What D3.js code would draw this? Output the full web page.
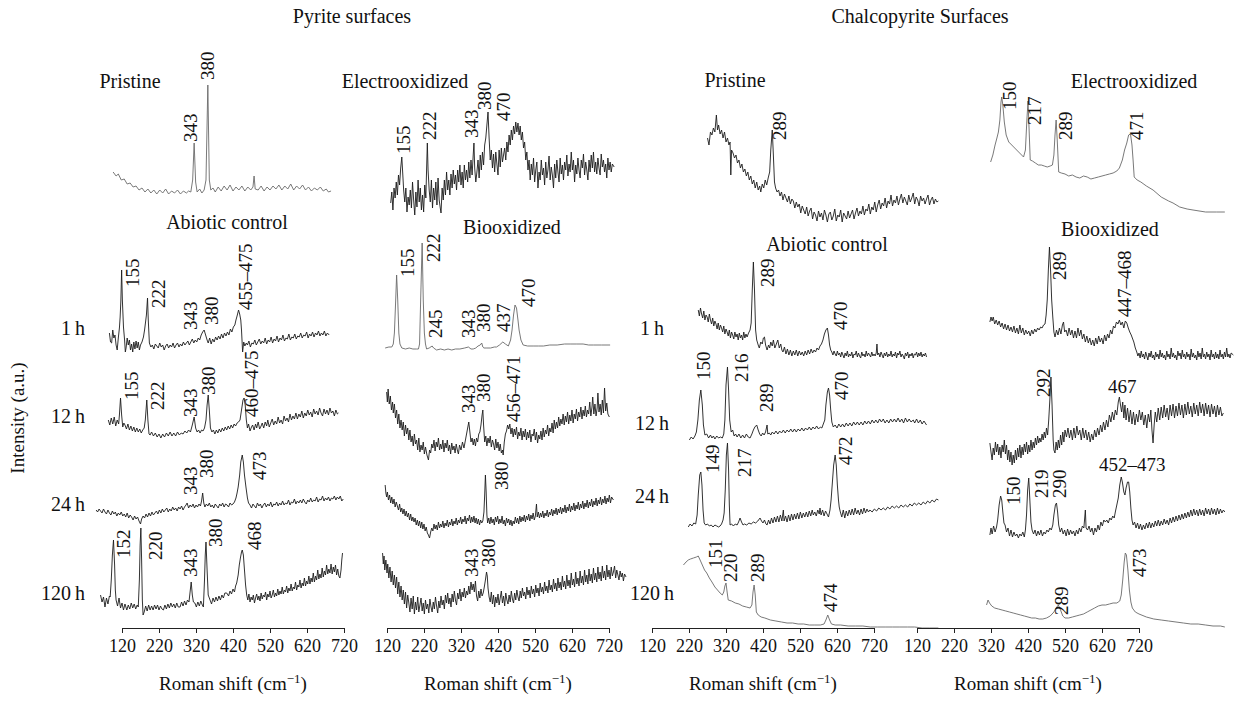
<!DOCTYPE html>
<html>
<head>
<meta charset="utf-8">
<script src="https://cdn.jsdelivr.net/npm/d3@7"></script>
<style>
  body { margin: 0; background: #fff; }
  text { font-family: "Liberation Serif", "DejaVu Serif", serif; fill: #111; }
</style>
</head>
<body>
<svg id="chart" width="1256" height="715"></svg>
<script>
// ---- data: Raman shift (as drawn on each panel's axis) vs stacked intensity (a.u.) ----
var xTicks = [120, 220, 320, 420, 520, 620, 720];
var groupTitles = ["Pyrite surfaces", "Chalcopyrite Surfaces"];
var panelTitles = [["Pristine", "Abiotic control"], ["Electrooxidized", "Biooxidized"],
                   ["Pristine", "Abiotic control"], ["Electrooxidized", "Biooxidized"]];
var timeLabels = ["1\u2009h", "12\u2009h", "24\u2009h", "120\u2009h"];

// pyrite, pristine
var pyPristine = [[96,428],[104,424],[110,426],[118,420],[126,421],[134,416],[142,417],[150,413],[158,414],[166,410],[174,412],[182,408],[190,411],[198,407],[206,410],[214,406],[222,410],[230,407],[238,411],[246,406],[254,409],[262,407],[270,410],[278,406],[286,409],[294,407],[300,409],[306,408],[311,420],[315,457],[319,418],[323,408],[330,411],[336,407],[342,410],[347,420],[352,515],[356,420],[360,410],[366,412],[372,408],[380,413],[388,409],[396,414],[404,410],[412,415],[420,409],[428,413],[436,410],[444,414],[452,409],[460,413],[468,410],[474,413],[477,424],[480,411],[488,410],[496,414],[504,409],[512,413],[520,410],[528,414],[536,411],[544,415],[552,410],[560,414],[568,411],[576,416],[584,410],[592,414],[600,411],[608,415],[616,410],[624,413],[632,409],[640,412],[648,410],[656,413],[664,409],[672,411],[678,408],[685,409]];
var pyPristineLbl = [["343",304,458],["380",352,520]];

// pyrite, electrooxidized
var pyElectro = [[130,397],[133,408],[136,390],[139,412],[142,402],[145,418],[148,405],[151,425],[154,415],[157,432],[160,443],[162,430],[165,410],[168,398],[171,412],[174,388],[177,403],[180,395],[183,410],[186,392],[189,418],[192,400],[195,385],[198,408],[201,393],[204,420],[207,398],[210,412],[213,390],[216,405],[219,388],[222,415],[225,402],[227,430],[229,457],[231,430],[234,410],[237,398],[240,420],[243,392],[246,412],[249,400],[252,418],[255,395],[258,422],[261,400],[264,392],[266,387],[269,412],[272,400],[275,420],[278,405],[281,428],[284,410],[287,420],[290,405],[293,426],[296,412],[299,430],[302,416],[305,425],[308,410],[311,430],[314,418],[317,435],[320,415],[323,428],[326,412],[329,435],[332,420],[335,430],[338,418],[341,438],[344,422],[347,440],[350,425],[353,445],[355,457],[357,432],[360,418],[363,428],[366,440],[369,422],[372,445],[375,430],[378,448],[381,435],[384,455],[387,462],[390,475],[393,488],[396,462],[399,440],[402,450],[405,432],[408,446],[411,428],[414,448],[417,436],[420,425],[423,450],[426,433],[429,452],[432,438],[435,445],[438,452],[441,440],[444,458],[447,448],[450,465],[453,455],[456,470],[459,460],[462,474],[465,466],[468,478],[471,468],[474,477],[477,465],[480,474],[483,460],[486,468],[489,452],[492,458],[495,440],[498,448],[501,430],[504,440],[507,420],[510,436],[513,425],[516,442],[519,418],[522,430],[525,438],[528,412],[531,428],[534,420],[537,440],[540,425],[543,432],[546,415],[549,438],[552,422],[555,430],[558,444],[561,420],[564,433],[567,425],[570,412],[573,436],[576,422],[579,440],[582,428],[585,418],[588,442],[591,426],[594,435],[597,420],[600,438],[603,430],[606,445],[609,424],[612,436],[615,428],[618,448],[621,430],[624,440],[627,418],[630,435],[633,426],[636,442],[639,430],[642,422],[645,440],[648,432],[651,446],[654,425],[657,438],[660,430],[663,420],[666,440],[669,428],[672,445],[675,432],[678,448],[681,428],[684,438],[687,426],[690,442],[693,432],[696,425],[699,446],[702,433],[705,440],[708,428],[711,436],[714,422],[717,442],[720,430],[723,438],[726,428],[729,436],[734,433]];
var pyElectroLbl = [["155",163,446],["222",235,460],["343",347,462],["380",382,490],["470",435,479]];

// pyrite, abiotic control
var pyAbio1h = [[86,267],[89,258],[92,257],[95,270],[98,262],[101,265],[104,255],[107,250],[110,262],[113,272],[115,283],[117,300],[119,330],[121,300],[124,273],[127,260],[129,248],[131,252],[134,262],[137,255],[140,260],[143,250],[146,256],[149,248],[152,258],[155,251],[158,259],[161,252],[164,258],[167,250],[170,255],[174,258],[178,263],[181,270],[184,279],[186,285],[189,302],[191,280],[194,257],[198,253],[202,255],[206,251],[210,256],[214,254],[218,252],[222,257],[226,253],[230,255],[234,250],[238,254],[242,256],[246,252],[250,255],[254,253],[258,257],[262,252],[266,255],[270,257],[274,253],[278,256],[282,254],[286,258],[290,255],[294,257],[298,259],[302,255],[306,258],[310,261],[314,257],[318,260],[322,258],[326,262],[330,260],[334,265],[338,268],[342,270],[346,265],[350,260],[353,257],[357,262],[361,256],[365,261],[369,258],[373,263],[377,260],[381,264],[385,261],[389,266],[393,262],[397,267],[401,264],[405,268],[409,265],[413,271],[417,268],[421,273],[425,275],[428,280],[431,284],[435,290],[438,286],[441,280],[443,270],[445,255],[446,248],[449,258],[452,254],[456,257],[459,255],[463,259],[467,253],[471,257],[475,256],[479,260],[483,255],[487,258],[491,261],[495,256],[499,259],[503,257],[507,262],[511,256],[515,260],[519,258],[523,263],[527,257],[531,261],[535,259],[539,264],[543,258],[547,262],[551,260],[555,265],[559,259],[563,262],[567,261],[571,266],[575,260],[579,263],[583,262],[587,266],[591,261],[595,264],[599,263],[603,267],[607,262],[611,265],[615,264],[619,268],[623,262],[627,266],[631,264],[635,268],[639,263],[643,267],[647,265],[651,269],[655,264],[659,267],[663,265],[667,269],[671,264],[675,267],[680,265]];
var pyAbio1hLbl = [["155",148,313],["222",219,292],["343",304,270],["380",361,275],["455\u2013475",454,290]];

var pyAbio12h = [[83,180],[87,175],[91,182],[95,176],[99,183],[103,174],[107,180],[111,176],[113,185],[116,202],[119,185],[122,173],[125,177],[128,175],[132,171],[136,176],[140,170],[144,174],[148,169],[152,173],[156,168],[160,172],[164,168],[168,171],[172,167],[176,170],[180,172],[183,180],[187,200],[190,180],[193,166],[196,165],[200,168],[205,164],[210,167],[215,163],[220,166],[225,162],[230,166],[235,163],[240,167],[245,164],[250,168],[255,164],[260,167],[265,164],[270,168],[275,165],[280,167],[285,166],[290,169],[295,167],[300,170],[305,168],[310,175],[315,183],[319,172],[323,168],[327,170],[331,167],[335,170],[339,169],[343,172],[347,180],[350,195],[353,205],[356,190],[359,172],[363,168],[367,170],[371,166],[375,170],[379,167],[383,171],[387,168],[391,172],[395,169],[399,173],[403,170],[407,174],[411,171],[415,175],[419,172],[423,176],[427,174],[431,177],[435,178],[439,180],[443,190],[447,200],[450,202],[453,195],[456,180],[459,172],[462,176],[466,169],[470,173],[473,175],[477,170],[481,176],[484,172],[488,178],[492,171],[496,174],[499,177],[503,172],[507,178],[511,174],[514,180],[518,173],[522,177],[526,181],[530,175],[534,179],[538,176],[542,183],[546,177],[550,180],[554,176],[558,184],[562,179],[566,182],[570,178],[574,186],[578,180],[582,184],[586,181],[590,187],[594,181],[598,186],[602,183],[606,189],[610,182],[614,187],[618,184],[622,190],[626,185],[630,188],[634,183],[638,191],[642,186],[646,189],[650,185],[654,192],[658,187],[662,184],[666,191],[670,186],[674,190],[678,185],[682,192],[686,187],[690,189],[694,184],[698,190],[702,186],[705,187]];
var pyAbio12hLbl = [["155",145,200],["222",216,190],["343",304,183],["380",353,205],["460\u2013475",470,183]];

var pyAbio24h = [[50,90],[54,88],[58,91],[62,89],[66,87],[70,91],[74,88],[78,86],[82,90],[86,87],[90,85],[94,89],[98,86],[102,88],[106,84],[110,87],[114,85],[118,88],[122,84],[126,86],[130,83],[134,87],[138,82],[142,85],[146,83],[150,80],[154,84],[158,81],[162,83],[166,79],[170,76],[173,81],[177,84],[181,82],[185,86],[189,83],[193,87],[197,84],[201,88],[205,85],[209,87],[213,89],[217,86],[221,90],[225,87],[229,91],[233,88],[237,90],[241,92],[245,88],[249,91],[253,89],[257,93],[261,90],[265,92],[269,89],[273,93],[277,91],[281,94],[285,90],[289,93],[293,95],[296,97],[300,92],[304,95],[308,93],[312,96],[316,92],[320,95],[324,93],[328,96],[332,94],[335,99],[338,107],[341,97],[344,93],[348,96],[352,94],[356,97],[360,93],[364,95],[368,92],[372,96],[376,94],[380,92],[384,96],[388,94],[392,97],[396,93],[400,96],[404,95],[408,93],[412,97],[416,95],[420,96],[424,98],[428,102],[431,107],[434,113],[438,125],[441,138],[445,145],[448,138],[451,125],[455,113],[459,102],[462,97],[466,95],[470,92],[474,96],[478,94],[482,92],[486,97],[490,94],[494,96],[498,92],[502,95],[506,97],[510,93],[514,96],[518,94],[522,98],[526,93],[530,96],[534,95],[538,98],[542,94],[546,97],[550,95],[554,99],[558,95],[562,97],[566,96],[570,100],[574,95],[578,98],[582,97],[586,101],[590,96],[594,99],[598,97],[602,100],[606,97],[610,101],[614,98],[618,96],[622,100],[626,98],[630,102],[634,98],[638,100],[642,99],[646,103],[650,98],[654,101],[658,100],[662,104],[666,99],[670,102],[674,100],[678,103],[682,99],[686,102],[690,101],[694,104],[698,100],[702,103],[706,101],[710,104],[714,99],[718,101]];
var pyAbio24hLbl = [["343",304,105],["380",348,122],["473",490,120]];

var pyAbio120h = [[62,5],[66,-2],[70,3],[74,-7],[78,2],[82,-4],[86,4],[88,3],[91,20],[94,45],[97,60],[100,35],[102,10],[104,0],[108,-6],[112,2],[116,-8],[120,-3],[124,-10],[128,-4],[133,-10],[137,-5],[141,-9],[145,-3],[149,-8],[153,-4],[157,-9],[161,-5],[164,-7],[167,20],[169,55],[171,72],[173,40],[175,0],[177,-15],[180,-12],[184,-6],[188,-11],[192,-5],[196,-10],[200,-6],[204,-10],[208,-5],[212,-9],[216,-5],[220,-10],[224,-6],[228,-9],[232,-10],[236,-5],[240,-9],[244,-4],[248,-8],[252,-3],[256,-7],[260,-4],[264,-8],[268,-3],[272,-7],[277,-7],[281,-2],[285,-6],[289,-1],[293,-5],[297,0],[301,-2],[304,8],[307,18],[310,5],[313,-2],[317,-3],[321,-7],[325,-2],[329,-6],[333,-1],[337,-5],[340,-7],[343,20],[345,45],[347,58],[350,30],[353,5],[358,0],[362,-4],[366,2],[370,-2],[374,3],[378,-1],[382,4],[386,0],[390,5],[394,2],[398,7],[403,7],[408,4],[412,9],[416,6],[420,11],[424,8],[427,14],[430,17],[434,25],[437,35],[440,42],[443,48],[445,50],[448,45],[451,30],[454,15],[457,5],[460,0],[463,6],[466,-2],[469,3],[472,0],[475,5],[478,-3],[481,2],[484,6],[487,0],[490,4],[493,-1],[496,7],[499,1],[502,5],[505,3],[508,8],[511,0],[514,6],[517,3],[520,9],[523,2],[526,5],[529,10],[532,3],[535,7],[538,4],[541,11],[544,5],[547,9],[550,6],[553,13],[556,6],[559,10],[562,8],[565,14],[568,7],[571,12],[574,9],[577,16],[580,9],[583,13],[586,11],[589,18],[592,10],[595,15],[598,13],[601,20],[604,12],[607,17],[610,14],[613,22],[616,14],[619,19],[622,16],[625,24],[628,16],[631,22],[634,18],[637,27],[640,18],[643,24],[646,20],[649,30],[652,21],[655,26],[658,22],[661,32],[664,23],[667,29],[670,25],[673,35],[676,26],[679,31],[682,27],[685,36],[688,26],[691,33],[694,28],[697,35],[700,25],[703,31],[706,24],[709,22],[712,30],[714,40],[716,47]];
var pyAbio120hLbl = [["152",124,42],["220",211,40],["343",304,23],["380",373,53],["468",478,50]];

// pyrite, biooxidized
var pyBio1h = [[115,252],[125,253],[133,253],[137,256],[140,267],[143,295],[146,325],[149,300],[152,267],[155,256],[160,252],[170,251],[180,252],[190,251],[200,251],[205,251],[208,256],[211,300],[215,357],[218,300],[221,267],[224,256],[227,251],[234,252],[242,254],[246,252],[254,250],[265,251],[275,250],[285,251],[295,250],[305,251],[317,251],[330,252],[340,253],[347,251],[353,251],[360,252],[366,254],[372,255],[376,257],[379,253],[382,252],[390,252],[400,252],[410,253],[416,253],[424,255],[433,258],[440,256],[448,254],[454,260],[458,270],[462,285],[466,295],[470,292],[474,280],[477,270],[482,260],[488,255],[500,254],[515,254],[530,254],[543,254],[560,255],[580,255],[600,256],[615,256],[633,256],[650,256],[665,255],[678,255],[700,255],[723,255]];
var pyBio1hLbl = [["155",174,323],["222",246,338],["245",250,262],["343",339,262],["380",380,268],["437",434,268],["470",502,293]];

var pyBio12h = [[119,208],[121,198],[123,211],[126,196],[129,204],[132,190],[135,198],[137,187],[140,196],[143,182],[146,190],[149,176],[152,186],[155,172],[158,180],[161,170],[164,178],[167,164],[170,175],[173,166],[176,172],[179,160],[182,170],[185,158],[188,164],[191,154],[194,166],[197,156],[200,160],[203,150],[206,162],[209,148],[212,155],[215,150],[218,158],[221,146],[224,153],[228,145],[232,140],[235,150],[238,147],[241,156],[244,152],[247,160],[250,149],[253,158],[256,153],[259,162],[262,150],[265,156],[268,151],[271,160],[274,148],[277,157],[280,152],[283,160],[286,149],[289,155],[292,146],[295,157],[298,150],[301,154],[304,147],[307,156],[310,150],[313,146],[316,155],[320,150],[324,158],[328,152],[332,160],[335,166],[338,172],[341,178],[344,168],[347,158],[350,162],[353,155],[356,161],[359,154],[362,162],[365,158],[368,166],[371,168],[374,175],[377,185],[379,190],[381,175],[384,158],[387,164],[390,154],[393,162],[396,157],[399,164],[402,153],[405,160],[408,156],[411,150],[414,161],[417,152],[420,158],[423,149],[426,156],[429,147],[432,150],[434,145],[437,158],[440,166],[443,169],[446,175],[449,171],[452,176],[455,166],[458,172],[461,163],[464,171],[467,165],[470,173],[473,161],[476,168],[479,164],[482,172],[485,160],[488,169],[491,163],[494,171],[497,160],[500,168],[503,162],[506,170],[509,158],[512,166],[515,164],[518,171],[521,160],[524,168],[527,157],[530,165],[533,161],[536,169],[539,160],[542,172],[545,163],[548,170],[551,166],[554,175],[557,164],[560,172],[563,168],[566,177],[569,167],[572,180],[575,171],[578,178],[581,172],[584,183],[587,174],[590,181],[593,176],[596,186],[599,175],[602,184],[605,178],[608,188],[611,176],[614,185],[617,179],[620,190],[623,177],[626,186],[629,181],[632,191],[635,179],[638,188],[641,183],[644,193],[647,181],[650,190],[653,184],[656,194],[659,183],[662,190],[665,186],[668,198],[671,184],[674,193],[676,203],[679,186],[682,196],[685,184],[688,192],[690,207],[693,188],[696,196],[699,185],[702,200],[705,187],[708,212],[711,189],[714,197],[717,186],[721,183]];
var pyBio12hLbl = [["343",340,187],["380",380,198],["456\u2013471",462,178]];

var pyBio24h = [[115,115],[117,107],[119,103],[121,108],[124,100],[127,105],[130,97],[133,103],[136,96],[139,101],[142,93],[145,98],[148,94],[151,90],[154,96],[157,88],[160,92],[163,86],[166,91],[169,84],[172,89],[175,83],[178,87],[181,80],[184,86],[187,79],[190,83],[193,78],[196,82],[199,75],[202,80],[205,74],[208,79],[211,72],[214,78],[217,71],[220,76],[223,69],[226,73],[229,67],[232,65],[235,62],[238,68],[241,72],[244,69],[247,76],[250,71],[253,75],[256,70],[259,78],[262,72],[265,76],[268,73],[271,79],[274,72],[277,77],[280,74],[283,80],[286,73],[289,78],[292,75],[295,81],[298,74],[301,79],[304,76],[307,82],[310,75],[313,80],[316,77],[319,83],[322,76],[325,81],[328,78],[331,84],[334,76],[337,82],[340,79],[343,85],[346,77],[349,83],[352,78],[355,84],[358,77],[361,82],[364,76],[367,81],[370,75],[373,80],[376,77],[379,79],[382,88],[384,105],[386,125],[388,108],[390,85],[392,77],[395,82],[398,76],[401,83],[404,77],[407,81],[410,75],[413,83],[416,78],[419,84],[422,76],[425,81],[428,77],[431,84],[434,76],[437,80],[440,74],[443,82],[446,77],[449,81],[452,75],[455,80],[458,74],[461,79],[464,76],[467,83],[470,77],[473,82],[476,76],[479,84],[482,78],[485,83],[488,79],[491,85],[494,78],[497,84],[500,80],[503,86],[506,79],[509,85],[512,81],[515,87],[518,80],[521,84],[524,96],[526,83],[529,88],[532,82],[535,87],[538,83],[541,89],[544,82],[547,87],[550,84],[553,90],[556,83],[559,88],[562,85],[565,91],[568,84],[571,90],[574,86],[577,92],[580,85],[583,91],[586,87],[589,93],[592,86],[595,92],[598,88],[601,95],[604,87],[607,93],[610,89],[613,96],[616,88],[619,94],[622,90],[625,97],[628,89],[631,95],[634,91],[637,98],[640,90],[643,96],[646,92],[649,99],[652,91],[655,97],[658,93],[661,100],[664,92],[667,98],[670,94],[673,101],[676,93],[679,99],[682,95],[685,102],[688,94],[691,100],[694,96],[697,103],[700,95],[703,101],[706,97],[709,104],[712,96],[715,102],[718,98],[721,105],[724,97],[727,103],[732,100]];
var pyBio24hLbl = [["380",430,110]];

var pyBio120h = [[108,47],[110,36],[112,44],[114,30],[117,40],[120,27],[122,36],[125,22],[128,33],[131,18],[134,29],[137,15],[140,25],[143,12],[146,23],[149,6],[152,18],[155,3],[158,14],[161,0],[164,10],[167,-4],[170,8],[173,-8],[176,5],[179,-3],[182,-12],[185,2],[188,-9],[191,4],[194,-14],[197,-2],[200,-10],[203,3],[206,-12],[209,-5],[212,2],[215,-11],[218,-3],[221,-14],[224,0],[227,-9],[230,-4],[233,-13],[236,1],[239,-7],[242,-12],[245,-2],[248,-9],[251,3],[254,-6],[257,-13],[260,-1],[263,-8],[266,4],[269,-5],[272,0],[275,-9],[278,5],[281,-3],[284,7],[287,-4],[290,2],[293,-7],[296,6],[299,-2],[302,9],[305,0],[308,-5],[311,7],[314,1],[317,11],[320,-1],[323,8],[326,3],[329,12],[332,2],[335,9],[338,5],[341,14],[344,6],[347,18],[350,10],[353,16],[356,8],[359,19],[362,4],[365,-1],[368,9],[371,2],[374,11],[377,4],[380,7],[383,13],[386,20],[389,28],[391,24],[393,12],[396,3],[399,-2],[402,8],[405,-4],[408,5],[411,-7],[414,3],[417,-3],[420,6],[423,-5],[426,2],[429,9],[432,-3],[435,4],[438,-6],[441,7],[444,0],[447,-4],[450,5],[453,-2],[456,9],[459,1],[462,-3],[465,7],[468,0],[471,10],[474,3],[477,-1],[480,9],[483,2],[486,12],[489,4],[492,8],[495,1],[498,13],[501,5],[504,10],[507,2],[510,14],[513,6],[516,11],[519,3],[522,15],[525,7],[528,12],[531,4],[534,17],[537,8],[540,13],[543,6],[546,18],[549,9],[552,14],[555,7],[558,20],[561,10],[564,15],[567,8],[570,21],[573,11],[576,17],[579,9],[582,22],[585,12],[588,18],[591,10],[594,24],[597,13],[600,19],[603,11],[606,25],[609,14],[612,20],[615,12],[618,27],[621,15],[624,21],[627,13],[630,28],[633,16],[636,22],[639,14],[642,29],[645,17],[648,24],[651,15],[654,30],[657,18],[660,25],[663,16],[666,31],[669,19],[672,26],[675,17],[678,32],[681,20],[684,27],[687,18],[690,33],[693,21],[696,28],[699,19],[702,34],[705,22],[708,29],[711,20],[714,35],[717,23],[720,30],[723,21],[726,33],[729,24],[732,28],[735,34],[738,22],[741,30],[744,25],[747,20],[750,29],[753,23],[756,27],[759,19],[762,26],[766,23]];
var pyBio120hLbl = [["343",348,23],["380",394,33]];

// chalcopyrite, pristine
var cpPristine = [[270,462],[274,455],[278,468],[282,465],[286,472],[290,468],[294,485],[297,470],[300,475],[304,466],[308,470],[312,462],[316,468],[320,458],[324,462],[328,455],[331,458],[333,425],[335,450],[339,447],[343,442],[347,445],[351,437],[355,440],[359,432],[363,436],[367,428],[371,431],[375,424],[379,428],[383,420],[387,424],[391,416],[395,420],[399,412],[403,418],[407,410],[411,414],[414,408],[418,416],[422,412],[426,420],[430,415],[434,422],[438,428],[441,450],[445,470],[448,445],[451,418],[454,412],[458,408],[462,410],[466,404],[470,408],[474,400],[478,406],[482,402],[486,398],[490,404],[494,396],[498,401],[502,399],[506,392],[510,398],[514,393],[518,396],[522,387],[526,394],[530,390],[534,386],[538,393],[542,384],[546,389],[550,392],[554,381],[558,388],[562,385],[566,379],[570,389],[574,383],[578,387],[582,380],[586,390],[590,385],[594,378],[598,386],[602,388],[606,380],[610,384],[614,391],[618,379],[622,385],[626,383],[630,390],[634,378],[638,387],[642,384],[646,381],[650,389],[654,382],[658,386],[662,390],[666,381],[670,387],[674,392],[678,384],[682,389],[686,386],[690,394],[694,385],[698,391],[702,389],[706,396],[710,386],[714,393],[718,390],[722,398],[726,388],[730,395],[734,400],[738,391],[742,397],[746,394],[750,402],[754,392],[758,399],[762,396],[766,405],[770,394],[774,400],[778,397],[782,404],[786,395],[790,401],[794,406],[798,397],[802,403],[806,399],[810,395],[814,405],[818,398],[822,402],[826,407],[830,396],[834,403],[838,400],[842,394],[846,404],[850,399],[854,402],[858,396],[862,401],[866,405],[870,395],[874,400],[878,403],[882,396],[886,401],[890,398],[894,399]];
var cpPristineLbl = [["289",465,460]];

// chalcopyrite, electrooxidized
var cpElectro = [[319,438],[325,445],[331,455],[336,462],[340,468],[344,480],[347,498],[349,503],[352,495],[356,478],[361,465],[368,458],[376,455],[384,452],[392,449],[400,446],[408,443],[413,450],[417,480],[420,499],[423,470],[426,440],[432,439],[440,437],[448,435],[456,435],[464,434],[472,433],[480,434],[486,435],[490,445],[493,465],[496,480],[499,460],[503,428],[510,427],[520,426],[530,424],[540,425],[550,423],[560,422],[570,424],[580,423],[590,421],[600,422],[610,423],[620,424],[630,425],[640,426],[650,427],[660,429],[667,432],[675,440],[681,450],[687,457],[692,465],[697,466],[701,455],[704,440],[707,423],[715,420],[725,418],[740,414],[758,410],[780,403],[800,399],[812,397],[830,393],[850,391],[866,390],[900,388],[930,388],[952,388]];
var cpElectroLbl = [["150",370,490],["217",438,475],["289",520,460],["471",713,460]];

// chalcopyrite, abiotic control
var cpAbio1h = [[245,290],[248,284],[251,292],[254,286],[257,282],[260,289],[263,280],[266,285],[269,283],[272,278],[275,286],[278,280],[281,276],[284,282],[287,274],[290,279],[293,276],[296,271],[299,277],[302,270],[305,275],[308,272],[311,268],[314,274],[317,266],[320,271],[323,268],[326,264],[329,270],[332,262],[335,268],[338,265],[341,261],[344,268],[347,263],[350,266],[353,260],[356,267],[359,262],[362,265],[365,260],[368,268],[371,262],[374,266],[377,263],[381,267],[385,270],[388,277],[391,310],[394,338],[397,310],[400,270],[403,260],[407,255],[410,252],[414,258],[418,256],[421,262],[424,263],[427,255],[431,250],[435,255],[438,252],[441,258],[445,254],[448,260],[452,252],[456,256],[460,260],[464,252],[468,256],[471,250],[474,248],[478,253],[482,246],[486,251],[490,245],[494,250],[498,244],[502,249],[506,245],[510,250],[514,244],[518,249],[522,245],[526,248],[530,244],[534,249],[538,245],[542,250],[546,246],[550,251],[554,247],[558,250],[562,248],[566,252],[570,250],[574,254],[578,256],[582,260],[586,266],[590,270],[594,272],[597,265],[600,255],[603,250],[606,248],[609,245],[612,249],[615,246],[618,244],[621,249],[624,245],[627,247],[630,243],[633,248],[636,245],[639,242],[642,247],[645,244],[648,249],[651,243],[654,246],[657,244],[660,248],[663,242],[666,246],[669,245],[672,249],[675,243],[678,247],[681,244],[684,242],[687,248],[690,244],[693,246],[696,243],[699,249],[702,244],[705,247],[708,245],[711,243],[714,248],[717,244],[720,246],[723,244],[726,247],[728,256],[730,245],[733,247],[736,243],[739,248],[742,245],[745,242],[748,247],[751,244],[754,248],[757,243],[760,246],[763,244],[766,249],[769,243],[772,246],[775,244],[778,248],[781,242],[784,247],[787,245],[790,249],[793,243],[796,246],[799,244],[802,241],[805,247],[808,244],[811,248],[814,242],[817,246],[820,244],[823,247],[826,242],[829,246],[832,245],[835,248],[838,243],[841,247],[844,244],[847,248],[850,243],[853,246],[856,244],[859,247],[862,243]];
var cpAbio1hLbl = [["289",431,313],["470",628,270]];

var cpAbio12h = [[221,160],[226,163],[231,161],[236,164],[240,168],[244,180],[248,200],[252,210],[256,195],[259,175],[263,165],[268,166],[273,162],[278,165],[282,162],[286,164],[290,161],[295,164],[300,162],[305,163],[310,162],[314,166],[317,180],[320,215],[324,233],[327,210],[330,180],[334,168],[338,170],[342,164],[346,166],[350,163],[355,166],[360,162],[365,165],[370,162],[375,166],[380,163],[385,162],[390,166],[394,170],[398,173],[403,175],[407,170],[411,166],[415,164],[419,167],[423,165],[427,168],[431,175],[433,166],[437,167],[441,165],[445,168],[450,166],[455,169],[460,166],[465,169],[470,167],[475,170],[480,167],[485,170],[490,168],[495,171],[500,168],[505,171],[510,168],[515,171],[520,169],[525,172],[530,169],[535,172],[540,170],[545,173],[550,170],[555,173],[560,171],[565,174],[570,171],[575,173],[579,172],[583,176],[587,180],[590,195],[594,208],[597,212],[600,205],[603,190],[606,178],[610,173],[615,175],[620,172],[625,176],[630,173],[635,176],[640,173],[645,177],[650,174],[655,177],[660,174],[665,178],[670,175],[675,178],[680,175],[685,178],[690,175],[695,179],[700,176],[705,179],[710,176],[715,180],[720,177],[725,180],[730,177],[735,181],[740,178],[745,181],[750,177],[755,180],[760,177],[765,181],[770,178],[775,181],[780,178],[785,182],[790,178],[795,181],[800,177],[805,182],[810,178],[815,181],[820,178],[826,180],[830,177],[835,181],[840,177],[845,180],[850,176],[855,179],[862,175]];
var cpAbio12hLbl = [["150",259,220],["216",362,218],["289",430,188],["470",632,200]];

var cpAbio24h = [[218,73],[223,76],[228,74],[233,77],[238,76],[242,85],[245,105],[249,125],[252,128],[255,115],[258,90],[261,77],[265,75],[270,76],[275,74],[280,75],[285,73],[290,75],[295,74],[300,73],[304,74],[308,76],[312,80],[315,87],[318,110],[321,145],[324,157],[327,130],[329,95],[331,75],[335,76],[340,74],[345,76],[350,75],[354,78],[358,82],[362,78],[366,75],[370,76],[376,75],[382,77],[388,76],[394,78],[400,77],[406,79],[410,81],[412,82],[416,79],[420,77],[424,80],[428,76],[431,75],[435,80],[439,76],[443,82],[447,77],[451,83],[455,78],[459,84],[463,78],[467,85],[471,79],[475,90],[477,79],[481,84],[485,78],[489,85],[493,79],[497,86],[501,80],[505,86],[509,81],[513,87],[517,81],[521,88],[525,82],[529,87],[533,83],[537,88],[541,83],[545,89],[549,84],[553,90],[556,85],[560,88],[564,84],[568,90],[572,86],[574,92],[577,85],[581,90],[585,84],[589,89],[593,86],[597,83],[601,90],[604,100],[607,115],[611,135],[615,145],[618,135],[621,115],[624,100],[626,93],[629,88],[633,83],[637,90],[641,82],[645,89],[649,84],[653,90],[657,85],[661,91],[665,85],[669,92],[673,86],[677,90],[681,85],[685,91],[689,86],[693,92],[697,87],[701,91],[705,88],[709,90],[715,88],[721,91],[727,89],[733,92],[739,90],[745,92],[751,90],[757,93],[763,91],[769,94],[775,92],[781,94],[787,92],[793,95],[799,93],[805,95],[811,93],[817,96],[823,94],[829,97],[835,95],[841,97],[847,95],[853,98],[859,96],[865,99],[871,97],[877,100],[883,98],[889,101],[894,100]];
var cpAbio24hLbl = [["149",283,127],["217",369,123],["472",643,135]];

var cpAbio120h = [[205,35],[212,38],[218,40],[224,41],[232,42],[240,43],[245,44],[250,40],[256,35],[262,30],[268,27],[275,22],[282,18],[290,13],[297,10],[304,7],[310,5],[314,8],[317,14],[320,17],[323,8],[326,0],[335,-1],[345,-3],[355,-4],[365,-6],[375,-7],[385,-8],[390,-5],[393,8],[396,15],[399,5],[402,-12],[407,-15],[415,-17],[425,-18],[440,-20],[455,-21],[470,-22],[485,-23],[500,-23],[515,-24],[530,-24],[545,-25],[560,-25],[575,-25],[585,-24],[590,-20],[595,-15],[600,-20],[605,-24],[615,-25],[630,-25],[650,-26],[670,-26],[690,-26],[710,-27],[730,-27],[750,-27],[770,-27],[790,-27],[810,-27],[830,-27],[850,-28],[870,-28],[894,-28]];
var cpAbio120hLbl = [["151",290,32],["220",332,18],["289",405,18],["474",603,-12]];

// chalcopyrite, biooxidized
var cpBio1h = [[317,278],[320,283],[323,279],[326,283],[330,276],[334,280],[338,275],[342,279],[346,273],[350,277],[354,271],[358,276],[362,270],[366,275],[370,269],[374,273],[378,268],[382,274],[386,267],[390,272],[394,266],[398,275],[402,267],[406,272],[410,265],[414,270],[418,266],[422,269],[426,264],[430,270],[434,266],[438,271],[442,268],[446,272],[450,270],[454,273],[458,272],[462,275],[466,276],[469,285],[472,300],[475,330],[478,353],[481,330],[484,300],[487,283],[490,268],[493,263],[497,270],[501,265],[505,272],[509,266],[513,275],[516,278],[519,268],[523,270],[527,264],[531,272],[535,265],[539,270],[543,262],[547,269],[551,262],[555,272],[559,264],[563,270],[567,261],[571,266],[575,258],[579,264],[583,257],[587,262],[591,255],[595,260],[599,254],[603,262],[607,256],[611,264],[615,258],[619,262],[623,256],[627,265],[631,259],[635,266],[639,262],[643,270],[647,266],[651,274],[655,272],[659,278],[663,276],[667,280],[671,275],[675,278],[679,272],[683,279],[687,277],[691,272],[695,268],[699,265],[702,262],[706,258],[710,252],[714,248],[717,244],[720,247],[723,242],[726,249],[729,243],[732,246],[735,241],[738,248],[741,244],[744,240],[747,247],[750,243],[753,249],[756,242],[759,245],[762,240],[765,248],[768,243],[771,246],[774,241],[777,250],[780,243],[783,247],[786,242],[789,245],[792,240],[795,249],[798,243],[801,246],[804,241],[807,252],[810,243],[813,247],[816,242],[819,245],[822,240],[825,249],[828,244],[831,247],[834,241],[837,250],[840,243],[843,246],[846,241],[849,248],[852,243],[855,246],[858,240],[861,251],[864,243],[867,247],[870,242],[873,245],[876,240],[879,249],[882,243],[885,247],[888,241],[891,252],[894,243],[897,246],[900,241],[903,248],[906,243],[909,246],[912,240],[915,250],[918,243],[921,246],[924,241],[927,248],[930,242],[933,246],[936,241],[939,250],[942,243],[945,246],[948,241],[951,248],[954,243],[957,252],[960,243],[963,246],[966,242],[969,247],[975,245]];
var cpBio1hLbl = [["289",505,320],["447\u2013468",681,283]];

var cpBio12h = [[317,157],[320,148],[323,140],[326,152],[329,145],[332,158],[335,148],[338,156],[341,145],[344,153],[347,142],[350,155],[353,148],[356,160],[359,146],[362,155],[365,140],[368,150],[371,138],[374,148],[377,135],[380,145],[383,137],[386,150],[389,140],[392,152],[395,143],[398,155],[401,142],[404,153],[407,145],[410,156],[413,148],[416,158],[419,146],[422,155],[425,148],[428,160],[431,150],[434,158],[437,152],[440,162],[443,155],[446,164],[449,157],[452,162],[455,158],[458,166],[461,160],[464,168],[467,162],[470,172],[473,165],[476,180],[479,200],[482,223],[485,195],[488,160],[490,150],[493,147],[496,158],[499,150],[502,160],[505,152],[508,165],[511,155],[514,168],[517,158],[520,170],[524,163],[528,172],[532,162],[536,170],[540,160],[544,172],[548,162],[552,174],[556,165],[560,170],[564,160],[568,172],[572,162],[576,170],[580,160],[584,168],[588,158],[592,166],[596,160],[600,170],[604,163],[608,172],[612,165],[616,175],[620,168],[624,178],[628,170],[632,180],[636,173],[640,185],[644,178],[648,188],[652,180],[656,190],[660,185],[664,198],[667,203],[670,195],[673,188],[676,198],[679,182],[682,195],[685,180],[689,192],[693,178],[697,190],[701,176],[705,188],[709,175],[713,186],[717,178],[721,190],[725,180],[729,188],[733,175],[737,185],[741,172],[745,186],[749,178],[752,190],[755,170],[758,157],[761,175],[764,188],[768,178],[772,192],[776,180],[780,193],[784,182],[788,195],[792,183],[796,192],[800,180],[804,195],[808,184],[812,196],[816,182],[820,194],[824,184],[828,197],[832,185],[836,195],[840,182],[844,196],[848,185],[852,198],[856,186],[860,194],[864,183],[868,197],[872,186],[876,195],[880,184],[884,198],[888,187],[892,196],[896,184],[900,197],[904,186],[908,195],[912,183],[916,196],[920,186],[924,194],[928,183],[932,195],[936,185],[940,193],[944,184],[948,187]];
var cpBio12hLbl = [["292",462,203]];
var cpBio12hFlat = [["467",675,207]];

var cpBio24h = [[317,65],[320,72],[323,66],[327,74],[331,68],[335,73],[338,80],[342,95],[346,104],[349,100],[352,88],[355,77],[358,75],[362,68],[366,72],[370,64],[374,70],[378,63],[382,68],[386,64],[390,66],[394,62],[398,66],[402,64],[406,68],[410,63],[413,70],[416,85],[419,110],[422,122],[425,100],[428,78],[431,70],[435,66],[439,70],[443,64],[447,69],[451,65],[455,70],[459,64],[463,68],[467,66],[471,70],[475,68],[479,72],[483,70],[487,75],[490,85],[494,95],[497,97],[500,88],[503,75],[507,68],[511,72],[515,66],[519,70],[523,64],[527,71],[531,65],[535,70],[539,66],[543,69],[547,64],[551,70],[555,66],[559,72],[563,68],[567,74],[571,72],[575,90],[577,72],[581,70],[585,74],[589,68],[593,72],[597,65],[601,72],[605,68],[609,75],[613,70],[617,78],[621,74],[625,80],[629,78],[633,80],[637,77],[641,82],[645,80],[649,84],[653,82],[656,88],[660,95],[664,102],[668,115],[672,123],[675,118],[679,108],[682,105],[685,112],[689,118],[692,118],[695,108],[698,92],[701,80],[704,75],[708,78],[712,72],[716,77],[720,71],[724,76],[728,70],[732,75],[736,71],[740,77],[744,72],[748,78],[752,72],[756,77],[760,73],[764,79],[768,74],[772,80],[776,74],[780,79],[784,75],[788,81],[792,76],[796,80],[800,75],[804,82],[808,77],[812,83],[816,78],[820,84],[824,79],[828,85],[832,80],[836,86],[840,81],[844,87],[848,82],[852,88],[856,83],[860,90],[864,84],[868,91],[872,85],[876,90],[880,84],[884,91],[888,85],[892,90],[896,84],[900,92],[904,86],[908,91],[912,85],[916,92],[920,86],[924,91],[928,85],[932,92],[936,86],[940,91],[944,87],[948,90],[952,88]];
var cpBio24hLbl = [["150",380,95],["219",456,102],["290",506,102]];
var cpBio24hFlat = [["452\u2013473",702,129]];

var cpBio120h = [[308,-5],[312,0],[316,-3],[322,-6],[330,-8],[340,-9],[350,-10],[360,-11],[370,-12],[380,-13],[390,-14],[400,-15],[410,-16],[420,-17],[430,-18],[440,-18],[450,-19],[460,-19],[470,-18],[480,-16],[490,-12],[496,-8],[502,-5],[508,-10],[514,-16],[520,-18],[530,-18],[540,-17],[550,-16],[560,-15],[570,-14],[580,-12],[590,-10],[600,-8],[610,-6],[620,-5],[630,-5],[640,-4],[650,-3],[660,-3],[668,-1],[672,5],[676,20],[680,38],[683,47],[686,45],[690,30],[694,10],[698,-2],[702,-8],[710,-12],[720,-14],[740,-17],[760,-19],[780,-20],[800,-21],[820,-22],[840,-23],[860,-24],[880,-24],[900,-25],[920,-26],[940,-26],[952,-27]];
var cpBio120hLbl = [["289",510,-15],["473",722,23]];

// ---- table of panels built from the arrays above ----
var spectra = [
  {col: 0, pts: pyPristine, lbl: pyPristineLbl, light: true},
  {col: 1, pts: pyElectro, lbl: pyElectroLbl},
  {col: 2, pts: cpPristine, lbl: cpPristineLbl},
  {col: 3, pts: cpElectro, lbl: cpElectroLbl, light: true},
  {col: 0, pts: pyAbio1h, lbl: pyAbio1hLbl},
  {col: 0, pts: pyAbio12h, lbl: pyAbio12hLbl},
  {col: 0, pts: pyAbio24h, lbl: pyAbio24hLbl},
  {col: 0, pts: pyAbio120h, lbl: pyAbio120hLbl},
  {col: 1, pts: pyBio1h, lbl: pyBio1hLbl, light: true},
  {col: 1, pts: pyBio12h, lbl: pyBio12hLbl},
  {col: 1, pts: pyBio24h, lbl: pyBio24hLbl},
  {col: 1, pts: pyBio120h, lbl: pyBio120hLbl},
  {col: 2, pts: cpAbio1h, lbl: cpAbio1hLbl},
  {col: 2, pts: cpAbio12h, lbl: cpAbio12hLbl},
  {col: 2, pts: cpAbio24h, lbl: cpAbio24hLbl},
  {col: 2, pts: cpAbio120h, lbl: cpAbio120hLbl, light: true},
  {col: 3, pts: cpBio1h, lbl: cpBio1hLbl},
  {col: 3, pts: cpBio12h, lbl: cpBio12hLbl, flat: cpBio12hFlat},
  {col: 3, pts: cpBio24h, lbl: cpBio24hLbl, flat: cpBio24hFlat},
  {col: 3, pts: cpBio120h, lbl: cpBio120hLbl, light: true}
];

// ---- layout ----
var svg = d3.select("#chart");
var colLeft = [122, 387, 652, 917];
var axisWidth = 222;
var axisY = 628;
var y = d3.scaleLinear().domain([0, 600]).range([600, 0]);
var xScales = colLeft.map(function(l) {
  return d3.scaleLinear().domain([120, 720]).range([l, l + axisWidth]);
});

// spectra
spectra.forEach(function(s) {
  var x = xScales[s.col];
  var line = d3.line().x(function(d) { return x(d[0]); }).y(function(d) { return y(d[1]); });
  svg.append("path")
    .attr("d", line(s.pts))
    .attr("fill", "none")
    .attr("stroke", s.light ? "#6a6a6a" : "#1c1c1c")
    .attr("stroke-width", 0.9)
    .attr("stroke-linejoin", "round");

  // peak labels, written upward
  s.lbl.forEach(function(l) {
    svg.append("text")
      .attr("transform", "translate(" + x(l[1]) + "," + y(l[2]) + ") rotate(-90)")
      .attr("dy", "0.35em")
      .attr("font-size", "19px")
      .text(l[0]);
  });
  (s.flat || []).forEach(function(l) {
    svg.append("text")
      .attr("x", x(l[1])).attr("y", y(l[2]))
      .attr("text-anchor", "middle")
      .attr("font-size", "19px")
      .text(l[0]);
  });
});

// group headings
[[352, 23], [920, 23]].forEach(function(p, i) {
  svg.append("text").attr("x", p[0]).attr("y", p[1])
    .attr("text-anchor", "middle").attr("font-size", "20px").text(groupTitles[i]);
});

// panel titles
var titlePos = [[[130, 88], [227, 229]], [[405, 88], [512, 234]], [[735, 87], [827, 251]], [[1134, 88], [1110, 236]]];
panelTitles.forEach(function(t, c) {
  t.forEach(function(name, r) {
    svg.append("text").attr("x", titlePos[c][r][0]).attr("y", titlePos[c][r][1])
      .attr("text-anchor", "middle").attr("font-size", "20px").text(name);
  });
});

// time labels
var timeY0 = [335, 423, 511, 600];
var timeY2 = [335, 430, 503, 600];
timeLabels.forEach(function(t, i) {
  svg.append("text").attr("x", 85).attr("y", timeY0[i])
    .attr("text-anchor", "end").attr("font-size", "20px").text(t);
  svg.append("text").attr("x", 652).attr("y", timeY2[i])
    .attr("text-anchor", "middle").attr("font-size", "20px").text(t);
});

// y-axis title
svg.append("text")
  .attr("transform", "translate(24,418) rotate(-90)")
  .attr("text-anchor", "middle").attr("font-size", "19px")
  .text("Intensity (a.u.)");

// bottom axes
xScales.forEach(function(x) {
  var g = svg.append("g")
    .attr("transform", "translate(0," + axisY + ")")
    .call(d3.axisBottom(x).tickValues(xTicks).tickSize(5).tickSizeOuter(0).tickPadding(6));
  g.select(".domain").attr("stroke", "#222");
  g.selectAll(".tick line").attr("stroke", "#222");
  g.selectAll(".tick text")
    .attr("font-family", "Liberation Serif, DejaVu Serif, serif")
    .attr("font-size", "18px").attr("fill", "#111");

  var t = svg.append("text")
    .attr("x", (x.range()[0] + x.range()[1]) / 2).attr("y", axisY + 62)
    .attr("text-anchor", "middle").attr("font-size", "19px");
  t.append("tspan").text("Roman shift (cm");
  t.append("tspan").attr("font-size", "13px").attr("dy", "-7").text("\u22121");
  t.append("tspan").attr("dy", "7").text(")");
});
</script>
</body>
</html>
